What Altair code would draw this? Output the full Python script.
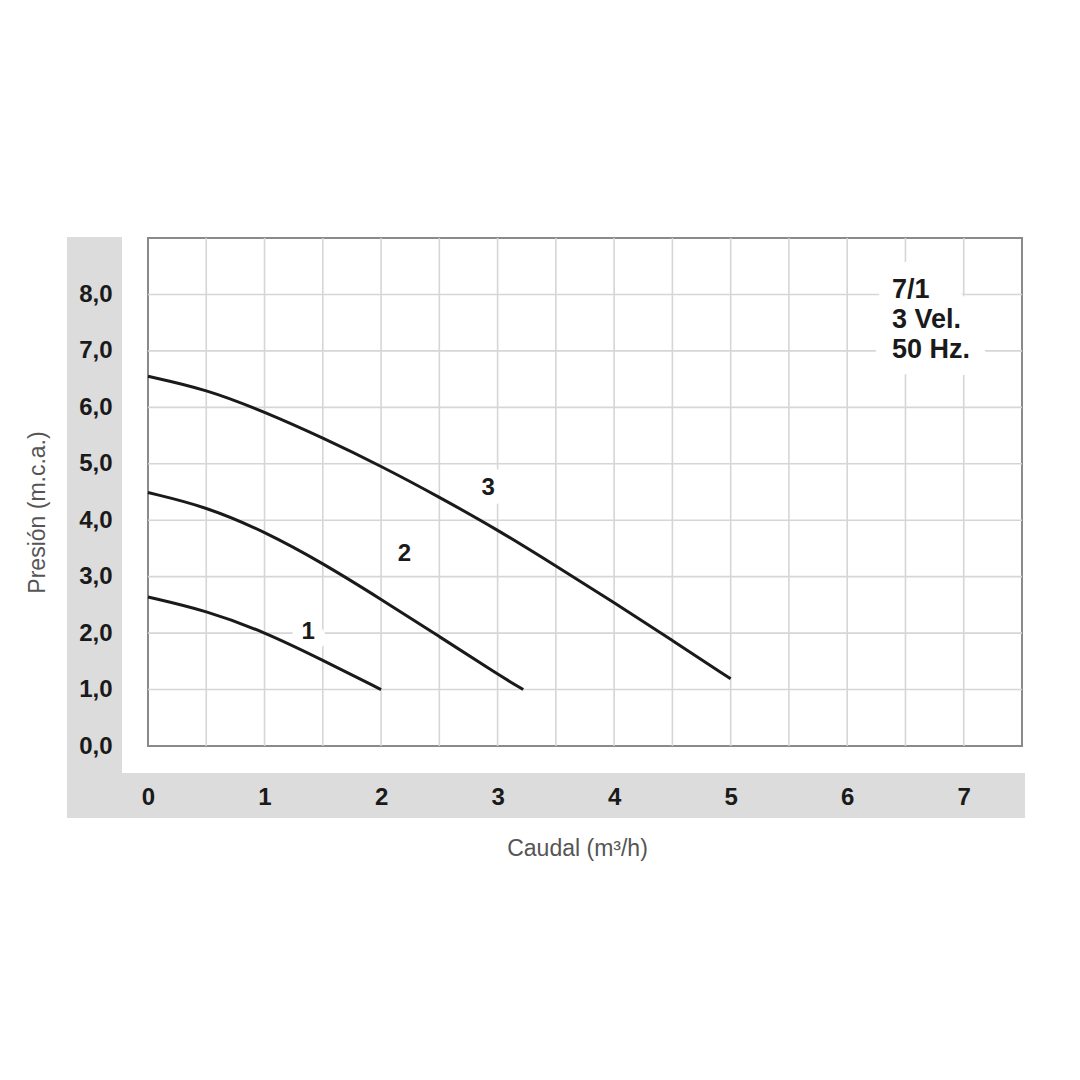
"""Curva caudal/presión de la bomba 7/1, 3 velocidades, 50 Hz."""

import altair as alt
import pandas as pd

# Curvas (caudal m³/h, presión m.c.a.)
FLOW_1 = [0.0, 0.5, 1.0, 1.5, 2.0]
HEAD_1 = [2.64, 2.40, 2.02, 1.52, 1.0]
FLOW_2 = [0.0, 0.5, 1.0, 1.5, 2.0, 2.5, 3.0, 3.22]
HEAD_2 = [4.49, 4.24, 3.80, 3.24, 2.60, 1.94, 1.27, 1.0]
FLOW_3 = [0.0, 0.5, 1.0, 1.5, 2.0, 2.5, 3.0, 3.5, 4.0, 4.5, 5.0]
HEAD_3 = [6.55, 6.32, 5.92, 5.46, 4.96, 4.41, 3.83, 3.19, 2.54, 1.87, 1.19]

CURVE_NAMES = ["1", "2", "3"]
LABEL_FLOW = [1.375, 2.2, 2.92]
LABEL_HEAD = [2.02, 3.41, 4.57]

X_TICKS = [0, 1, 2, 3, 4, 5, 6, 7]
Y_TICKS = [0, 1, 2, 3, 4, 5, 6, 7, 8]
X_GRID = [0.5, 1.0, 1.5, 2.0, 2.5, 3.0, 3.5, 4.0, 4.5, 5.0, 5.5, 6.0, 6.5, 7.0]
Y_GRID = [1, 2, 3, 4, 5, 6, 7, 8]

INFO_LINES = ["7/1", "3 Vel.", "50 Hz."]
INFO_FLOW = [6.385]
INFO_HEAD = [8.08]

INK = "#1a1a1a"
MUTED = "#555555"
GRID = "#d6d6d6"
BORDER = "#8a8a8a"
BAND = "#dcdcdc"
FONT = "Liberation Sans"

curves = pd.concat(
    [
        pd.DataFrame({"curve": name, "flow": flow, "head": head})
        for name, flow, head in zip(
            CURVE_NAMES, [FLOW_1, FLOW_2, FLOW_3], [HEAD_1, HEAD_2, HEAD_3]
        )
    ],
    ignore_index=True,
)
labels = pd.DataFrame({"curve": CURVE_NAMES, "flow": LABEL_FLOW, "head": LABEL_HEAD})
info = pd.DataFrame({"text": ["\n".join(INFO_LINES)], "flow": INFO_FLOW, "head": INFO_HEAD})
dummy = pd.DataFrame({"a": [0]})

x_enc = alt.X(
    "flow:Q",
    scale=alt.Scale(domain=[0, 7.5], nice=False, zero=False),
    axis=alt.Axis(
        values=X_TICKS,
        title="Caudal (m³/h)",
        grid=False,
        domain=False,
        ticks=False,
        tickSize=0,
        labelFontSize=24,
        labelFontWeight="bold",
        labelColor=INK,
        labelPadding=51,
        labelBaseline="middle",
        labelFlush=False,
        labelOverlap=False,
        titleFontSize=23,
        titleFontWeight="normal",
        titleColor=MUTED,
        titleX=429,
        titleY=102,
        titleBaseline="middle",
        zindex=1,
    ),
)
y_enc = alt.Y(
    "head:Q",
    scale=alt.Scale(domain=[0, 9], nice=False, zero=False),
    axis=alt.Axis(
        values=Y_TICKS,
        labelExpr="replace(format(datum.value, '.1f'), '.', ',')",
        title="Presión (m.c.a.)",
        grid=False,
        domain=False,
        ticks=False,
        tickSize=0,
        labelFontSize=24,
        labelFontWeight="bold",
        labelColor=INK,
        labelPadding=36,
        labelFlush=False,
        labelOverlap=False,
        titleFontSize=23,
        titleFontWeight="normal",
        titleColor=MUTED,
        titleX=-111,
        titleY=274,
        titleBaseline="middle",
        zindex=1,
    ),
)

# grey frame bands behind the tick labels (pixel offsets from the plot origin)
left_band = alt.Chart(dummy).mark_rect(color=BAND).encode(
    x=alt.value(-81), x2=alt.value(-26), y=alt.value(-1), y2=alt.value(580)
)
bottom_band = alt.Chart(dummy).mark_rect(color=BAND).encode(
    x=alt.value(-81), x2=alt.value(877), y=alt.value(535), y2=alt.value(580)
)

x_grid = alt.Chart(pd.DataFrame({"flow": X_GRID})).mark_rule(
    color=GRID, strokeWidth=1.6
).encode(x=x_enc)
y_grid = alt.Chart(pd.DataFrame({"head": Y_GRID})).mark_rule(
    color=GRID, strokeWidth=1.6
).encode(y=y_enc)

# basis smoothing irons out the small reading errors in the points
lines = alt.Chart(curves).mark_line(
    color=INK, strokeWidth=3, interpolate="basis"
).encode(x=x_enc, y=y_enc, detail="curve:N")

# white halos only knock out the grid, so they sit below the curves
label_halo = alt.Chart(labels).mark_text(
    font=FONT, fontSize=24, fontWeight="bold", fill="white",
    stroke="white", strokeWidth=22, strokeJoin="round",
).encode(x=x_enc, y=y_enc, text="curve:N")
label_text = alt.Chart(labels).mark_text(
    font=FONT, fontSize=24, fontWeight="bold", color=INK
).encode(x=x_enc, y=y_enc, text="curve:N")

info_halo = alt.Chart(info).mark_text(
    font=FONT, fontSize=27, fontWeight="bold", align="left", baseline="middle",
    lineBreak="\n", lineHeight=30, fill="white",
    stroke="white", strokeWidth=34, strokeJoin="round",
).encode(x=x_enc, y=y_enc, text="text:N")
info_text = alt.Chart(info).mark_text(
    font=FONT, fontSize=27, fontWeight="bold", align="left", baseline="middle",
    lineBreak="\n", lineHeight=30, color=INK,
).encode(x=x_enc, y=y_enc, text="text:N")

chart = (
    alt.layer(
        left_band, bottom_band, x_grid, y_grid, label_halo, info_halo,
        lines, label_text, info_text,
    )
    .properties(
        width=874,
        height=508,
        autosize=alt.AutoSizeParams(type="none"),
        padding={"left": 140, "top": 230, "right": 50, "bottom": 300},
    )
    .configure(background="white", font=FONT)
    .configure_view(stroke=BORDER, strokeWidth=2)
)

chart.save("out.html", embed_options={"renderer": "svg", "actions": False})
